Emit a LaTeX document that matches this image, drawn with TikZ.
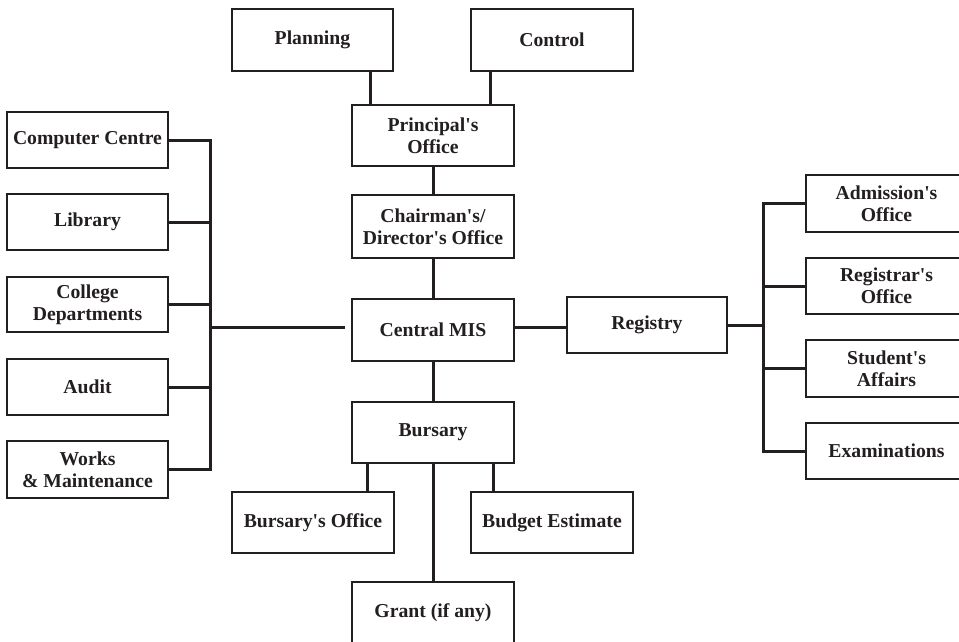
\documentclass[tikz,border=0pt]{standalone}
\usepackage{fontspec}
\newfontfamily\boxfont{Liberation Serif}
\definecolor{ink}{HTML}{231F20}
\begin{document}
\begin{tikzpicture}[x=1pt,y=-1pt,
  box/.style={draw=ink,line width=2.4pt,fill=white,align=center,inner sep=0pt,
    font=\boxfont\fontsize{19.7}{22}\selectfont\bfseries,text=ink,
    minimum width=161pt,minimum height=56pt},
  conn/.style={draw=ink,line width=3pt}]
\useasboundingbox (0,0) rectangle (959,642);
\clip (0,0) rectangle (959,642);
% centre column
\node[box,minimum height=62pt] (plan) at (312.5,40) {Planning};
\node[box,minimum width=162pt,minimum height=62pt] (ctrl) at (552,40) {Control};
\node[box,minimum width=162pt,minimum height=61pt] (princ) at (433,135.5) {Principal's\\Office};
\node[box,minimum width=162pt,minimum height=63pt] (chair) at (433,226.5) {Chairman's/\\Director's Office};
\node[box,minimum width=162pt,minimum height=62pt] (cmis) at (433,330) {Central MIS};
\node[box,minimum width=162pt,minimum height=61pt] (burs) at (433,432.5) {Bursary};
\node[box,minimum width=162pt,minimum height=61pt] (bof) at (313,522.5) {Bursary's Office};
\node[box,minimum width=162pt,minimum height=61pt] (budg) at (552,522.5) {Budget Estimate};
\node[box,minimum width=162pt,minimum height=62pt] (grant) at (433,613) {Grant (if any)};
\node[box,minimum width=160pt] (reg) at (647,325) {Registry};
% left column
\node[box] (cc) at (87.5,140) {Computer Centre};
\node[box] (lib) at (87.5,222) {Library};
\node[box,minimum height=55pt] (col) at (87.5,304.5) {College\\Departments};
\node[box] (aud) at (87.5,387) {Audit};
\node[box,minimum height=57pt] (wm) at (87.5,469.5) {Works\\\&~Maintenance};
% right column
\node[box,minimum height=57pt] (adm) at (886.5,203.5) {Admission's\\Office};
\node[box] (rof) at (886.5,286) {Registrar's\\Office};
\node[box,minimum height=57pt] (stu) at (886.5,368.5) {Student's\\Affairs};
\node[box] (exam) at (886.5,451) {Examinations};
\coordinate (lt) at (210,0);
\coordinate (rt) at (763,0);
% connectors
\draw[conn] ([xshift=57.5pt]plan.south) -- ([xshift=-63pt]princ.north);
\draw[conn] ([xshift=-62pt]ctrl.south) -- ([xshift=57pt]princ.north);
\draw[conn] (princ) -- (chair);
\draw[conn] (chair) -- (cmis);
\draw[conn] (cmis) -- (burs);
\draw[conn] (burs) -- (grant);
\draw[conn] ([xshift=-66pt]burs.south) -- ([xshift=54pt]bof.north);
\draw[conn] ([xshift=60pt]burs.south) -- ([xshift=-59pt]budg.north);
\draw[conn] ([yshift=3pt]cmis.east) -- ([yshift=3pt]cmis.east -| reg.west);
\draw[conn] ([yshift=3pt,xshift=-6pt]cmis.west) -- ([yshift=3pt]cmis.west -| lt);
\foreach \n in {cc,lib,col,aud,wm} \draw[conn] (\n.east) -- (\n.east -| lt);
\draw[conn,line cap=rect] (cc.east -| lt) -- (wm.east -| lt);
\draw[conn] (reg.east) -- (reg.east -| rt);
\foreach \n in {adm,rof,stu,exam} \draw[conn] (\n.west) -- (\n.west -| rt);
\draw[conn,line cap=rect] (adm.west -| rt) -- (exam.west -| rt);
\end{tikzpicture}
\end{document}
